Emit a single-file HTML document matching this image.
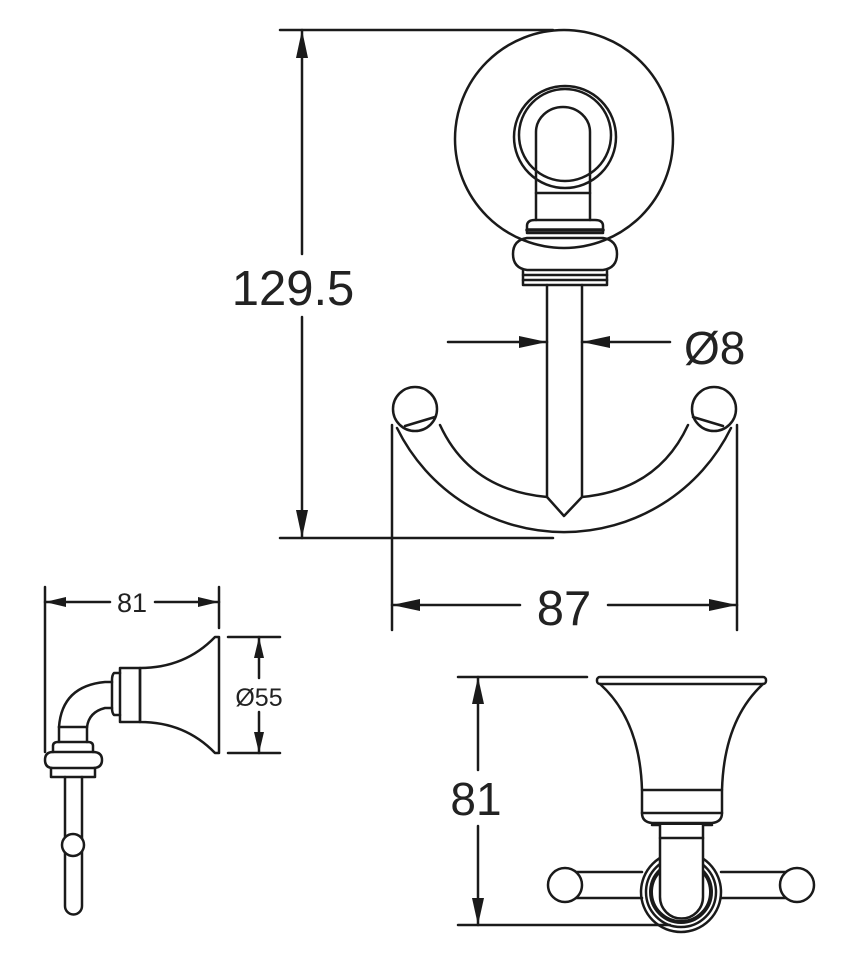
<!DOCTYPE html>
<html><head><meta charset="utf-8"><style>
html,body{margin:0;padding:0;background:#fff;}
svg{display:block;}
text{font-family:"Liberation Sans",sans-serif;fill:#222;}
</style></head><body>
<svg width="844" height="956" viewBox="0 0 844 956" xmlns="http://www.w3.org/2000/svg">
<g fill="none" stroke="#1a1a1a" stroke-width="2.5" stroke-linejoin="round" stroke-linecap="round">
<!-- main view dims -->
<line x1="280" y1="30" x2="553" y2="30"/>
<line x1="280" y1="538" x2="553" y2="538"/>
<line x1="302" y1="30" x2="302" y2="254"/>
<line x1="302" y1="317" x2="302" y2="538"/>
<line x1="392" y1="425" x2="392" y2="630"/>
<line x1="737" y1="425" x2="737" y2="630"/>
<line x1="392" y1="605" x2="520" y2="605"/>
<line x1="608" y1="605" x2="737" y2="605"/>
<line x1="448" y1="342" x2="547" y2="342"/>
<line x1="582" y1="342" x2="670" y2="342"/>
<!-- rosette -->
<circle cx="564" cy="139" r="109"/>
<circle cx="565" cy="137" r="51"/>
<circle cx="565" cy="135" r="46"/>
<path d="M536,220 V132 A27,25 0 0 1 590,132 V220"/>
<line x1="536" y1="193" x2="590" y2="193"/>
<path d="M527,233 V226 Q527,220 535,220 H595 Q603,220 603,226 V233 Z"/>
<line x1="527" y1="230" x2="603" y2="230" stroke-width="3.5"/>
<path d="M527,238 H603 Q617,240 617,254 Q617,268 603,270 H527 Q513,268 513,254 Q513,240 527,238 Z"/>
<path d="M523,270 V285 H607 V270"/>
<line x1="523" y1="275" x2="607" y2="275"/>
<line x1="523" y1="280" x2="607" y2="280"/>
<!-- stem -->
<path d="M547,285 V497 L564,516 L582,497 V285"/>
<!-- hooks -->
<path d="M397,428 A186,186 0 0 0 731,428"/>
<path d="M440,425 Q470,490 547,497"/>
<path d="M688,425 Q658,490 582,497"/>
<circle cx="415" cy="409" r="22"/>
<circle cx="714" cy="409" r="22"/>
<line x1="405" y1="426" x2="435" y2="417"/>
<line x1="723" y1="426" x2="693" y2="417"/>
<!-- side view -->
<line x1="45" y1="587" x2="45" y2="752"/>
<line x1="219" y1="587" x2="219" y2="628"/>
<line x1="45" y1="602" x2="110" y2="602"/>
<line x1="155" y1="602" x2="219" y2="602"/>
<line x1="228" y1="637" x2="280" y2="637"/>
<line x1="228" y1="753" x2="280" y2="753"/>
<line x1="259" y1="637" x2="259" y2="678"/>
<line x1="259" y1="712" x2="259" y2="753"/>
<path d="M219,637 V753 H215 Q185,722 140,722 V668 Q185,668 215,637 Z"/>
<rect x="120" y="668" width="20" height="54"/>
<path d="M120,673 H114 Q112,675 112,680 V708 Q112,713 114,715 H120"/>
<path d="M112,682 H105 Q62,686 59,727"/>
<path d="M112,708 H105 Q89,712 87,727"/>
<line x1="59" y1="727" x2="87" y2="727"/>
<path d="M59,727 V742 M87,727 V742"/>
<path d="M53,752 V746 Q53,742 58,742 H88 Q93,742 93,746 V752"/>
<path d="M53,752 H93 Q102,752 102,760 Q102,768 93,768 H53 Q45,768 45,760 Q45,752 53,752 Z"/>
<path d="M51,768 V777 H95 V768"/>
<path d="M65,777 V906 A8.5,8.5 0 0 0 82,906 V777"/>
<circle cx="73" cy="845" r="11" fill="#fff"/>
<!-- bottom view -->
<line x1="458" y1="677" x2="587" y2="677"/>
<line x1="458" y1="925" x2="670" y2="925"/>
<line x1="478" y1="677" x2="478" y2="770"/>
<line x1="478" y1="826" x2="478" y2="925"/>
<rect x="597" y="677" width="169" height="7" rx="3"/>
<path d="M600,684 Q640,720 642,790 M763,684 Q724,720 722,790"/>
<rect x="642" y="790" width="80" height="23"/>
<path d="M642,813 Q642,822 652,823 H712 Q722,822 722,813"/>
<line x1="652" y1="825" x2="712" y2="825"/>
<line x1="568" y1="872" x2="642" y2="872"/>
<line x1="568" y1="898" x2="642" y2="898"/>
<line x1="721" y1="872" x2="795" y2="872"/>
<line x1="721" y1="898" x2="795" y2="898"/>
<circle cx="565" cy="885" r="17" fill="#fff"/>
<circle cx="797" cy="885" r="17" fill="#fff"/>
<circle cx="681" cy="892" r="40"/>
<circle cx="681" cy="892" r="35"/>
<circle cx="681" cy="892" r="30" stroke-width="4"/>
<path d="M660,825 V897 A21.5,21.5 0 0 0 703,897 V825" fill="#fff"/>
<line x1="660" y1="838" x2="703" y2="838"/>
</g>
<g fill="#1a1a1a">
<polygon points="302,30 296,58 308,58"/>
<polygon points="302,538 296,510 308,510"/>
<polygon points="392,605 420,599 420,611"/>
<polygon points="737,605 709,599 709,611"/>
<polygon points="547,342 519,336 519,348"/>
<polygon points="582,342 610,336 610,348"/>
<polygon points="45,602 66,597 66,607"/>
<polygon points="219,602 198,597 198,607"/>
<polygon points="259,637 254,658 264,658"/>
<polygon points="259,753 254,732 264,732"/>
<polygon points="478,677 472,704 484,704"/>
<polygon points="478,925 472,898 484,898"/>
</g>
<text x="293" y="305" font-size="49" text-anchor="middle">129.5</text>
<text x="564" y="625" font-size="49" text-anchor="middle">87</text>
<text x="684" y="364" font-size="46">Ø8</text>
<text x="132" y="612" font-size="27" text-anchor="middle">81</text>
<text x="259" y="706" font-size="25" text-anchor="middle">Ø55</text>
<text x="476" y="815" font-size="46" text-anchor="middle">81</text>
</svg>
</body></html>
